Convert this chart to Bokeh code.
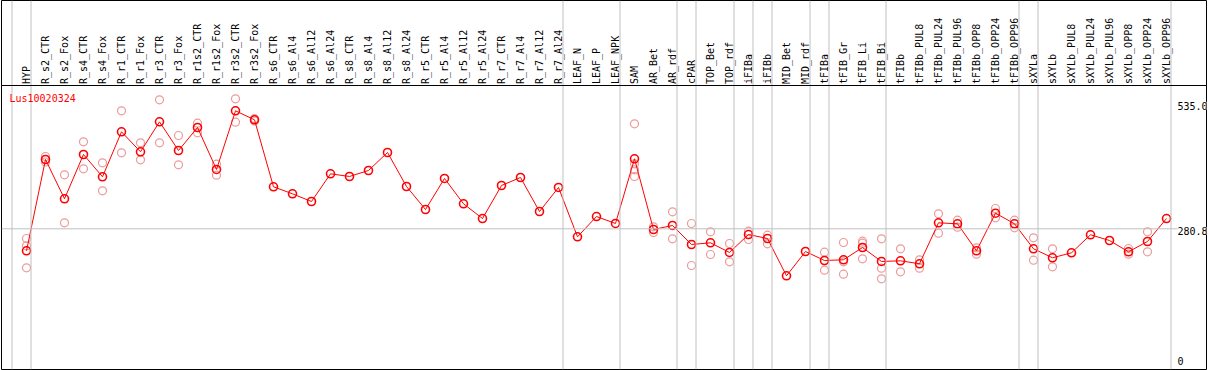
import math
from bokeh.plotting import figure
from bokeh.models import Range1d, Span, Label, ColumnDataSource
from bokeh.core.properties import value
from bokeh.embed import file_html
from bokeh.resources import INLINE

gene = "Lus10020324"

categories = [
    "HYP",
    "R_s2_CTR", "R_s2_Fox", "R_s4_CTR", "R_s4_Fox", "R_r1_CTR", "R_r1_Fox",
    "R_r3_CTR", "R_r3_Fox", "R_r1s2_CTR", "R_r1s2_Fox", "R_r3s2_CTR", "R_r3s2_Fox",
    "R_s6_CTR", "R_s6_Al4", "R_s6_Al12", "R_s6_Al24",
    "R_s8_CTR", "R_s8_Al4", "R_s8_Al12", "R_s8_Al24",
    "R_r5_CTR", "R_r5_Al4", "R_r5_Al12", "R_r5_Al24",
    "R_r7_CTR", "R_r7_Al4", "R_r7_Al12", "R_r7_Al24",
    "LEAF_N", "LEAF_P", "LEAF_NPK",
    "SAM", "AR_Bet", "AR_rdf",
    "cPAR",
    "TOP_Bet", "TOP_rdf",
    "iFIBa",
    "iFIBb",
    "MID_Bet", "MID_rdf",
    "tFIBa",
    "tFIB_Gr", "tFIB_Li", "tFIB_Bi",
    "tFIBb", "tFIBb_PUL8", "tFIBb_PUL24", "tFIBb_PUL96", "tFIBb_OPP8", "tFIBb_OPP24", "tFIBb_OPP96",
    "sXYLa",
    "sXYLb", "sXYLb_PUL8", "sXYLb_PUL24", "sXYLb_PUL96", "sXYLb_OPP8", "sXYLb_OPP24", "sXYLb_OPP96",
]

# number of consecutive samples in each group (separated by grey lines)
group_sizes = [1, 28, 3, 3, 1, 2, 1, 1, 2, 1, 3, 7, 1, 7]

means = [
    237.8,
    416.3, 339.5, 426.1, 382.5, 470.5, 431.4, 490.0, 433.9, 478.9, 396.8, 511.5, 493.9,
    362.9, 349.2, 334.2, 388.3,
    383.1, 394.8, 430.0, 363.5,
    318.5, 379.2, 329.7, 300.9,
    365.5, 381.1, 314.6, 361.6,
    265.2, 304.8, 291.2,
    417.7, 279.4, 287.3,
    250.1,
    253.4, 234.5,
    269.6,
    261.8,
    188.9, 236.4,
    218.8,
    220.2, 244.2, 216.9,
    218.2, 212.4, 292.5, 290.6, 237.8, 311.3, 290.6,
    241.7,
    224.1, 233.9, 269.1, 257.9, 235.8, 256.0, 300.9,
]

replicates = [
    [261.8, 247.6, 204.5],
    [422.2, 411.4], [386.4, 292.5], [450.9, 398.1], [409.9, 355.1], [511.5, 429.4], [449.0, 415.7],
    [533.0, 449.0], [463.2, 405.9], [487.3, 468.5], [407.1, 385.6], [535.0, 489.2], [496.5, 491.6],
    [], [], [], [],
    [], [], [], [],
    [], [], [], [],
    [], [], [], [],
    [], [], [],
    [486.1, 407.9, 396.2, 383.1], [284.7, 273.6], [314.0, 261.2],
    [291.2, 209.0],
    [274.9, 230.5], [252.1, 216.3],
    [276.1, 259.9],
    [268.3, 251.5],
    [], [],
    [235.0, 199.8],
    [254.0, 216.3, 192.0], [256.6, 252.6, 222.1], [261.2, 203.8, 183.0],
    [241.7, 196.7], [220.2, 203.8], [310.1, 272.2], [297.6, 283.9], [243.6, 231.1], [320.5, 302.3], [297.6, 282.8],
    [263.2, 219.4],
    [241.7, 206.5], [], [], [], [242.3, 231.1], [274.9, 235.8], [],
]

scale_values = [535.0, 280.8, 0.0]
scale_labels = ["535.0", "280.8", "0"]

# ---------------- layout (pixels) ----------------
W, H = 1209, 370
COL0_PX, COL_PX = 26.0, 19.0          # first column centre, column pitch
FRAME_L, FRAME_R, FRAME_B = 1, 1206, 369
Y0_PX, PX_PER_UNIT = 371.9, 0.5114     # pixel row of value 0, pixels per unit

def px_to_col(px):
    return (px - COL0_PX) / COL_PX

def py_to_val(py):
    return (Y0_PX - py) / PX_PER_UNIT

idx = list(range(len(categories)))

p = figure(width=W, height=H, output_backend="svg", toolbar_location=None,
           x_range=Range1d(px_to_col(FRAME_L), px_to_col(FRAME_R)),
           y_range=Range1d(py_to_val(FRAME_B), py_to_val(0)),
           min_border_left=FRAME_L, min_border_right=W - FRAME_R,
           min_border_top=0, min_border_bottom=H - FRAME_B)
p.axis.visible = False
p.grid.visible = False
p.outline_line_color = "black"
p.outline_line_width = 1
p.background_fill_color = "white"
p.border_fill_color = "white"

# group separators
bounds = [-1]
acc = -1
for g in group_sizes:
    acc += g
    bounds.append(acc)
for b in bounds:
    p.add_layout(Span(location=b + 4.5 / COL_PX, dimension="height",
                      line_color="#c0c0c0", line_width=1))

# mean reference line
p.add_layout(Span(location=scale_values[1], dimension="width",
                  line_color="#c0c0c0", line_width=1))
# separator between labels and plot
p.add_layout(Span(location=py_to_val(85), dimension="width",
                  line_color="black", line_width=1))

# replicates
rep_x, rep_y = [], []
for i, reps in enumerate(replicates):
    for r in reps:
        rep_x.append(i)
        rep_y.append(r)
p.scatter(rep_x, rep_y, marker="circle", size=8, fill_alpha=0,
          line_color="#ec9a9a", line_width=1.2)

# mean line + markers
src = ColumnDataSource(dict(x=idx, y=means))
p.line("x", "y", source=src, line_color="#ff0000", line_width=1)
p.scatter("x", "y", source=src, marker="circle", size=8, fill_alpha=0,
          line_color="#ff0000", line_width=1.6)

# column labels (rotated)
lab_src = ColumnDataSource(dict(x=idx, y=[py_to_val(83.5)] * len(idx), t=categories))
p.text("x", "y", text="t", source=lab_src, angle=math.pi / 2,
       text_align="left", text_baseline="middle",
       text_font=value("DejaVu Sans Mono"), text_font_size="10px",
       text_color="black")

# gene name
p.add_layout(Label(x=px_to_col(9), y=py_to_val(97.5), text=gene,
                   text_font="DejaVu Sans Mono", text_font_size="10px",
                   text_color="#ff0000", text_baseline="middle", text_align="left"))

# right scale labels
label_top_px = [101.2, 226.5, 356.2]
for v, t, tp in zip(scale_values, scale_labels, label_top_px):
    p.add_layout(Label(x=px_to_col(1177), y=v, text=t,
                       y_offset=-(tp - (Y0_PX - v * PX_PER_UNIT)),
                       text_font="DejaVu Sans Mono", text_font_size="10px",
                       text_color="black", text_baseline="top", text_align="left",
                       background_fill_color="white"))

open("out.html", "w").write(file_html(p, INLINE))
